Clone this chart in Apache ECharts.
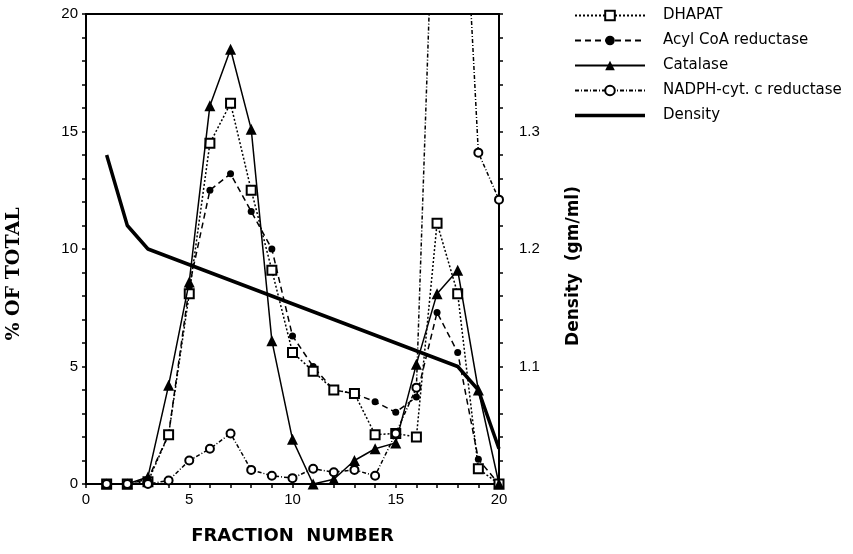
<!DOCTYPE html>
<html>
<head>
<meta charset="utf-8">
<script src="https://cdn.jsdelivr.net/npm/echarts@6/dist/echarts.min.js"></script>
<style>
  html, body { margin: 0; padding: 0; background: #fff; }
  #chart { width: 853px; height: 554px; }
</style>
</head>
<body>
<div id="chart"></div>
<script>
var fractions = [1, 2, 3, 4, 5, 6, 7, 8, 9, 10, 11, 12, 13, 14, 15, 16, 17, 18, 19, 20];

// % of total, left axis
var dhapat = [0, 0, 0.1, 2.1, 8.1, 14.5, 16.2, 12.5, 9.1, 5.6, 4.8, 4.0, 3.85, 2.1, 2.15, 2.0, 11.1, 8.1, 0.65, 0];
var acylCoA = [0, 0, 0.2, 2.1, 8.4, 12.5, 13.2, 11.6, 10.0, 6.3, 5.0, 4.0, 3.85, 3.5, 3.05, 3.7, 7.3, 5.6, 1.05, 0];
var catalase = [0, 0, 0.3, 4.2, 8.6, 16.1, 18.5, 15.1, 6.1, 1.9, 0, 0.2, 1.0, 1.5, 1.75, 5.1, 8.1, 9.1, 4.0, 0];
// fractions 17 and 18 run off the top of the plot
var nadph = [0, 0, 0, 0.15, 1.0, 1.5, 2.15, 0.6, 0.35, 0.25, 0.65, 0.5, 0.6, 0.35, 2.15, 4.1, 30, 31, 14.1, 12.1];

// density (gm/ml), right axis, only the bend points of the curve
var densityFractions = [1, 2, 3, 18, 19, 20];
var density = [1.28, 1.22, 1.2, 1.1, 1.08, 1.03];

var xTicks = [0, 5, 10, 15, 20];

function pairs(xs, ys) {
    return xs.map(function (x, i) { return [x, ys[i]]; });
}

var chart = echarts.init(document.getElementById('chart'));

var tickFont = { fontFamily: 'Liberation Sans', fontSize: 15, color: '#000' };
var axisLine = { show: true, onZero: false, lineStyle: { color: '#000', width: 2 } };
var tick = { show: true, length: 4, lineStyle: { color: '#000', width: 1.5 } };
var minor = { show: true, splitNumber: 5, length: 4, lineStyle: { color: '#000', width: 1.5 } };

var option = {
    backgroundColor: '#fff',
    animation: false,
    grid: { left: 86, right: 354, top: 14, bottom: 70 },
    legend: {
        orient: 'vertical',
        left: 569,
        top: 3,
        itemWidth: 70,
        itemHeight: 12,
        itemGap: 10,
        textStyle: { fontFamily: 'DejaVu Sans', fontSize: 15, color: '#000', padding: [0, 0, 0, 13] },
        data: [
            'DHAPAT',
            'Acyl CoA reductase',
            'Catalase',
            'NADPH-cyt. c reductase',
            { name: 'Density', icon: 'path://M0,0L70,0L70,3.5L0,3.5Z' }
        ]
    },
    xAxis: [{
        type: 'value',
        min: 0,
        max: 20,
        interval: 5,
        position: 'bottom',
        axisLine: axisLine,
        axisTick: tick,
        minorTick: minor,
        splitLine: { show: false },
        axisLabel: Object.assign({ margin: 8, formatter: function (v) {
            return xTicks.indexOf(v) >= 0 ? String(v) : '';
        } }, tickFont),
        name: 'FRACTION  NUMBER',
        nameLocation: 'middle',
        nameGap: 43,
        nameTextStyle: { fontFamily: 'DejaVu Sans', fontWeight: 'bold', fontSize: 18, color: '#000' }
    }, {
        type: 'value',
        min: 0,
        max: 20,
        position: 'top',
        axisLine: axisLine,
        axisTick: { show: false },
        axisLabel: { show: false },
        splitLine: { show: false }
    }],
    yAxis: [{
        type: 'value',
        min: 0,
        max: 20,
        interval: 5,
        position: 'left',
        axisLine: axisLine,
        axisTick: tick,
        minorTick: minor,
        splitLine: { show: false },
        axisLabel: Object.assign({ margin: 8 }, tickFont)
    }, {
        type: 'value',
        min: 1.0,
        max: 1.4,
        interval: 0.1,
        position: 'right',
        axisLine: axisLine,
        axisTick: tick,
        minorTick: minor,
        splitLine: { show: false },
        axisLabel: Object.assign({
            margin: 20,
            formatter: function (v) {
                if (Math.abs(v - 1.0) < 1e-6 || Math.abs(v - 1.4) < 1e-6) return '';
                return v.toFixed(1);
            }
        }, tickFont)
    }],
    graphic: [{
        type: 'text',
        x: 14,
        y: 274,
        rotation: Math.PI / 2,
        style: {
            text: '% OF TOTAL',
            font: 'bold 19px "DejaVu Serif"',
            fill: '#000',
            textAlign: 'center',
            textVerticalAlign: 'middle'
        }
    }, {
        type: 'text',
        x: 574,
        y: 266,
        rotation: Math.PI / 2,
        style: {
            text: 'Density  (gm/ml)',
            font: 'bold 17px "DejaVu Sans"',
            fill: '#000',
            textAlign: 'center',
            textVerticalAlign: 'middle'
        }
    }],
    series: [{
        name: 'DHAPAT',
        type: 'line',
        data: pairs(fractions, dhapat),
        symbol: 'emptyRect',
        symbolSize: 9,
        lineStyle: { color: '#000', width: 1.5, type: [2, 2] },
        itemStyle: { color: '#000', borderWidth: 1.5 },
        z: 4
    }, {
        name: 'Acyl CoA reductase',
        type: 'line',
        data: pairs(fractions, acylCoA),
        symbol: 'circle',
        symbolSize: 7,
        lineStyle: { color: '#000', width: 1.5, type: [6, 4] },
        itemStyle: { color: '#000' },
        z: 3
    }, {
        name: 'Catalase',
        type: 'line',
        data: pairs(fractions, catalase),
        symbol: 'triangle',
        symbolSize: 11,
        lineStyle: { color: '#000', width: 1.5, type: 'solid' },
        itemStyle: { color: '#000' },
        z: 5
    }, {
        name: 'NADPH-cyt. c reductase',
        type: 'line',
        data: pairs(fractions, nadph),
        symbol: 'emptyCircle',
        symbolSize: 8,
        lineStyle: { color: '#000', width: 1.5, type: [4, 2, 1, 2] },
        itemStyle: { color: '#000', borderWidth: 1.5 },
        z: 6
    }, {
        name: 'Density',
        type: 'line',
        yAxisIndex: 1,
        data: pairs(densityFractions, density),
        symbol: 'none',
        lineStyle: { color: '#000', width: 3.5 },
        itemStyle: { color: '#000' },
        z: 2
    }]
};

chart.setOption(option);

window.onresize = chart.resize;
</script>
</body>
</html>
